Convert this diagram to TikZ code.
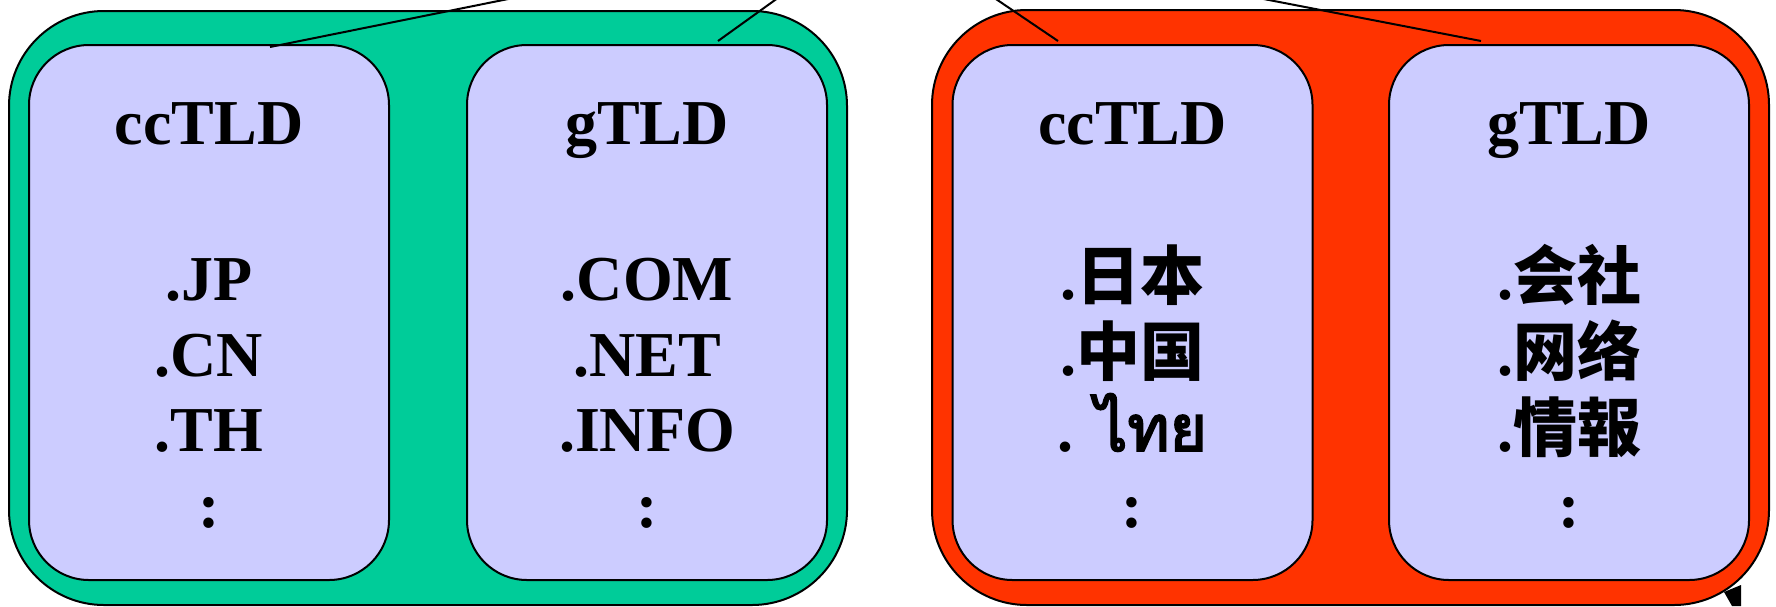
\documentclass[tikz,border=0pt]{standalone}
\usepackage{fontspec}
\setmainfont{Liberation Serif}
\newfontfamily\cjkfont{Noto Sans CJK SC}
\newfontfamily\thaifont[Script=Thai, AutoFakeBold=3]{Loma}
\definecolor{tldgreen}{HTML}{00CC99}
\definecolor{tldred}{HTML}{FF3300}
\definecolor{lav}{HTML}{CCCCFF}
\tikzset{
  outerbox/.style={draw=black, line width=2pt, rounded corners=95pt, rectangle, inner sep=0pt},
  innerbox/.style={draw=black, line width=2pt, fill=lav, rounded corners=60pt, rectangle, inner sep=0pt,
    minimum width=360pt, minimum height=535pt},
  lbl/.style={anchor=base, inner sep=0pt, font=\fontsize{64}{70}\selectfont\bfseries},
  conn/.style={draw=black, line width=2pt}
}
\begin{document}
\begin{tikzpicture}[x=1pt,y=-1pt]
\useasboundingbox (0,0) rectangle (1776,606);
\clip (0,0) rectangle (1776,606);
% outer boxes
\node[outerbox, fill=tldgreen, minimum width=838pt, minimum height=594pt] (ascii) at (428,308) {};
\node[outerbox, fill=tldred, minimum width=837pt, minimum height=595pt] (idn) at (1350.5,307.5) {};
% inner boxes
\node[innerbox] (b1) at (209,312.5) {};
\node[innerbox] (b2) at (647,312.5) {};
\node[innerbox] (b3) at (1132.5,312.5) {};
\node[innerbox] (b4) at (1569,312.5) {};
% connectors
\coordinate (c1a) at (270,47);  \coordinate (c1b) at (528,-5);
\coordinate (c2a) at (718,41);  \coordinate (c2b) at (782,-5);
\coordinate (c3a) at (1058,41); \coordinate (c3b) at (990,-5);
\coordinate (c4a) at (1481,41); \coordinate (c4b) at (1243,-5);
\draw[conn] (c1a) -- (c1b);
\draw[conn] (c2a) -- (c2b);
\draw[conn] (c3a) -- (c3b);
\draw[conn] (c4a) -- (c4b);
% titles
\node[lbl] (t1) at (209,144) {ccTLD};
\node[lbl] (t2) at (647,144) {gTLD};
\node[lbl] (t3) at (1132.5,144) {ccTLD};
\node[lbl] (t4) at (1569,144) {gTLD};
% ascii ccTLD
\node[lbl] (a1) at (209,300) {.JP};
\node[lbl] (a2) at (209,376) {.CN};
\node[lbl] (a3) at (209,451) {.TH};
\node[lbl] (a4) at (209,527) {:};
% ascii gTLD
\node[lbl] (g1) at (647,300) {.COM};
\node[lbl] (g2) at (647,376) {.NET};
\node[lbl] (g3) at (647,451) {.INFO};
\node[lbl] (g4) at (647,527) {:};
% IDN ccTLD
\node[lbl] (i1) at (1132.5,299) {.{\cjkfont 日本}};
\node[lbl] (i2) at (1132.5,375) {.{\cjkfont 中国}};
\node[lbl] (i3) at (1132.5,451) {. {\thaifont ไทย}};
\node[lbl] (i4) at (1132.5,527) {:};
% IDN gTLD
\node[lbl] (j1) at (1569,299) {.{\cjkfont 会社}};
\node[lbl] (j2) at (1569,375) {.{\cjkfont 网络}};
\node[lbl] (j3) at (1569,451) {.{\cjkfont 情報}};
\node[lbl] (j4) at (1569,527) {:};
% partial dark shape at lower right
\fill[black] (1724,592) -- (1741,585) -- (1741,606) -- (1732,606) -- cycle;
\end{tikzpicture}
\end{document}
